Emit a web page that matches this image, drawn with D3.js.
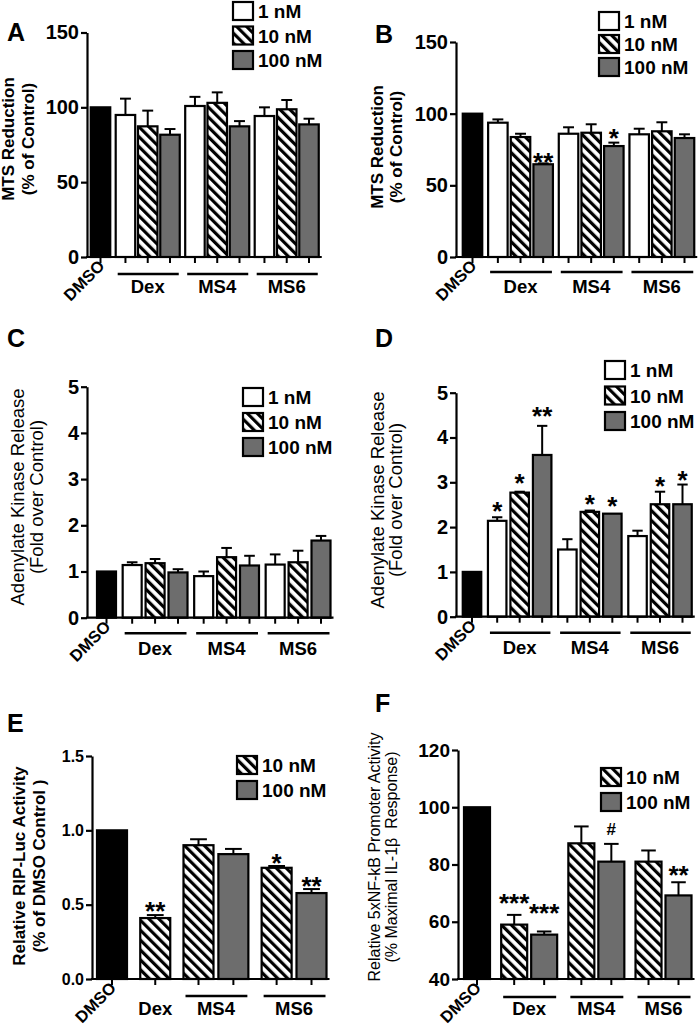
<!DOCTYPE html>
<html><head><meta charset="utf-8">
<script src="https://cdn.jsdelivr.net/npm/d3@7"></script>
<style>body{margin:0;background:#fff}svg{display:block}text{font-family:"Liberation Sans",Arial,sans-serif}</style>
</head><body>
<script>
// ---------- DATA ----------
const conc3 = ["1 nM", "10 nM", "100 nM"];
const conc2 = ["10 nM", "100 nM"];
const compounds = ["Dex", "MS4", "MS6"];

// bar kinds: ctrl = DMSO, c1 = 1 nM, c10 = 10 nM, c100 = 100 nM
const kinds3 = ["ctrl","c1","c10","c100","c1","c10","c100","c1","c10","c100"];
const groups3 = [0,1,1,1,2,2,2,3,3,3];
const kindsE = ["ctrl","c10","c10","c100","c10","c100"];
const groupsE = [0,1,2,2,3,3];
const kindsF = ["ctrl","c10","c100","c10","c100","c10","c100"];
const groupsF = [0,1,1,2,2,3,3];

const meanA = [100, 94.9, 87.3, 81.7, 100.9, 103.0, 87.3, 94.2, 98.7, 88.6];
const semA  = [0, 10.9, 10.5, 3.8, 6.1, 7.0, 3.5, 5.8, 6.2, 3.8];
const meanB = [100, 93.7, 83.7, 64.7, 86.0, 86.7, 77.4, 85.6, 87.7, 83.0];
const semB  = [0, 2.3, 2.3, 0.6, 4.5, 5.9, 2.4, 3.9, 6.3, 2.6];
const meanC = [1, 1.14, 1.18, 0.98, 0.90, 1.31, 1.13, 1.15, 1.20, 1.67];
const semC  = [0, 0.06, 0.09, 0.07, 0.10, 0.20, 0.21, 0.22, 0.25, 0.10];
const meanD = [1, 2.14, 2.77, 3.61, 1.50, 2.34, 2.30, 1.80, 2.51, 2.51];
const semD  = [0, 0.08, 0.02, 0.65, 0.23, 0.03, 0.0, 0.12, 0.28, 0.44];
const meanE = [1, 0.41, 0.90, 0.84, 0.748, 0.578];
const semE  = [0, 0.02, 0.04, 0.035, 0.012, 0.027];
const meanF = [100, 59.0, 55.5, 87.4, 81.0, 81.0, 69.2];
const semF  = [0, 3.4, 1.1, 5.9, 6.2, 3.9, 4.6];

// significance marks: [bar index, text, value at bottom of mark]
const sigA = [];
const sigB = [[3,"**",66.5],[6,"*",83.7]];
const sigC = [];
const sigD = [[1,"*",2.38],[2,"*",3.0],[3,"**",4.5],[5,"*",2.54],[6,"*",2.49],[8,"*",2.94],[9,"*",3.07]];
const sigE = [[1,"**",0.463],[4,"*",0.786],[5,"**",0.631]];
const sigF = [[1,"***",66.9],[2,"***",63.1],[4,"#",90.3],[6,"**",76.7]];

const ticksMTS = [0,50,100,150];
const ticksAK = [0,1,2,3,4,5];
const ticksE = [0,0.5,1.0,1.5];
const ticksF = [40,60,80,100,120];

// ---------- DRAW ----------
const svg = d3.select("body").append("svg").attr("width",700).attr("height",1027);
const defs = svg.append("defs");
const pat = defs.append("pattern").attr("id","hatch").attr("patternUnits","userSpaceOnUse")
  .attr("width",7).attr("height",7).attr("patternTransform","rotate(-45)");
pat.append("rect").attr("width",7).attr("height",7).attr("fill","#fff");
pat.append("rect").attr("width",3.2).attr("height",7).attr("fill","#000");

const GRAY = "#6d6d6d";
const fillOf = k => k==="ctrl" ? "#000" : k==="c1" ? "#fff" : k==="c10" ? "url(#hatch)" : GRAY;
const kindOfLabel = {"1 nM":"c1","10 nM":"c10","100 nM":"c100"};

function panel(c){
  const g = svg.append("g");
  const y = d3.scaleLinear().domain(c.domain).range([c.y0, c.yTop]);
  const slots = c.groups.map((gi,i)=> i + c.gap*gi);
  const x = d3.scaleLinear().domain([0, slots[slots.length-1]]).range([c.firstC, c.lastC]);
  const bw = c.barW;
  const base = c.domain[0];
  const data = c.means.map((m,i)=>({m, s:c.sems[i], k:c.kinds[i], slot:slots[i], grp:c.groups[i]}));

  // error bars
  g.selectAll(".err").data(data.filter(d=>d.s>0)).join("g").each(function(d){
    const e = d3.select(this), cx = x(d.slot);
    e.append("line").attr("x1",cx).attr("x2",cx).attr("y1",y(d.m)).attr("y2",y(d.m+d.s))
      .attr("stroke","#000").attr("stroke-width",2);
    e.append("line").attr("x1",cx-bw*0.28).attr("x2",cx+bw*0.28).attr("y1",y(d.m+d.s)).attr("y2",y(d.m+d.s))
      .attr("stroke","#000").attr("stroke-width",2);
  });
  // bars
  g.selectAll(".bar").data(data).join("rect")
    .attr("x",d=>x(d.slot)-bw/2).attr("width",bw)
    .attr("y",d=>y(d.m)).attr("height",d=>y(base)-y(d.m))
    .attr("fill",d=>fillOf(d.k)).attr("stroke","#000").attr("stroke-width",2.2);

  // y axis
  const ya = g.append("g").attr("transform",`translate(${c.axisX},0)`)
    .call(d3.axisLeft(y).tickValues(c.ticks).tickSize(6).tickSizeOuter(0).tickPadding(2).tickFormat(c.fmt||d3.format("d")));
  ya.select(".domain").attr("stroke-width",2.2);
  ya.selectAll(".tick line").attr("stroke-width",2.2);
  ya.selectAll(".tick text").attr("font-size",c.tickFont).attr("font-weight","bold").attr("fill","#000")
    .style("font-family",'"Liberation Sans",Arial,sans-serif');

  // x axis
  const xEnd = x(slots[slots.length-1]) + bw/2 + 3;
  g.append("line").attr("x1",c.axisX-1).attr("x2",xEnd).attr("y1",c.y0).attr("y2",c.y0)
    .attr("stroke","#000").attr("stroke-width",2.2);
  g.selectAll(".xt").data(slots).join("line")
    .attr("x1",d=>x(d)).attr("x2",d=>x(d)).attr("y1",c.y0).attr("y2",c.y0+6)
    .attr("stroke","#000").attr("stroke-width",2);

  // DMSO label
  g.append("text").attr("text-anchor","end").attr("font-size",16.5).attr("font-weight","bold")
    .attr("transform",`translate(${x(slots[0])+5},${c.y0+10}) rotate(-45)`).text("DMSO");

  // group labels
  compounds.forEach((name,gi)=>{
    const idx = data.map((d,i)=>i).filter(i=>data[i].grp===gi+1);
    const left = x(slots[idx[0]]) - bw/2, right = x(slots[idx[idx.length-1]]) + bw/2;
    if (idx.length>1) {
      g.append("line").attr("x1",left+2).attr("x2",right-1).attr("y1",c.y0+c.lineOff).attr("y2",c.y0+c.lineOff)
        .attr("stroke","#000").attr("stroke-width",2.4);
    }
    g.append("text").attr("x",(left+right)/2).attr("y",c.y0+c.labOff).attr("text-anchor","middle")
      .attr("font-size",18.5).attr("font-weight","bold").text(name);
  });

  // significance
  c.sig.forEach(([i,t,v])=>{
    const star = t!=="#";
    const fs = star ? 26 : 17;
    g.append("text").attr("x",x(slots[i])).attr("y",y(v) + (star? fs*0.37 : 0))
      .attr("text-anchor","middle").attr("font-size",fs).attr("font-weight","bold").text(t);
  });

  // y label
  c.ylab.forEach((t,j)=>{
    g.append("text").attr("text-anchor","middle").attr("font-size",c.ylabFont)
      .attr("font-weight",c.ylabBold?"bold":"normal")
      .attr("transform",`translate(${c.ylabX[j]},${c.ylabCY}) rotate(-90)`)
      .style("white-space","pre").attr("xml:space","preserve").text(t);
  });

  // panel letter
  g.append("text").attr("x",c.letter[1]).attr("y",c.letter[2]).attr("font-size",25).attr("font-weight","bold").text(c.letter[0]);

  // legend
  c.legend.forEach((lab,j)=>{
    const ly = c.legY + j*c.legPitch;
    g.append("rect").attr("x",c.legX).attr("y",ly).attr("width",20).attr("height",18)
      .attr("fill",fillOf(kindOfLabel[lab])).attr("stroke","#000").attr("stroke-width",2.2);
    g.append("text").attr("x",c.legX+25).attr("y",ly+16).attr("font-size",19).attr("font-weight","bold").text(lab);
  });
}

panel({means:meanA, sems:semA, kinds:kinds3, groups:groups3, sig:sigA, domain:[0,150], ticks:ticksMTS, tickFont:20,
  axisX:87, yTop:32.5, y0:257, firstC:100.5, lastC:309, gap:0.12, barW:19.5, lineOff:17, labOff:36,
  ylab:["MTS Reduction","(% of Control)"], ylabFont:17, ylabBold:true, ylabX:[14,33.5], ylabCY:139,
  letter:["A",7,41], legend:conc3, legX:233, legY:2, legPitch:24.5});
panel({means:meanB, sems:semB, kinds:kinds3, groups:groups3, sig:sigB, domain:[0,150], ticks:ticksMTS, tickFont:20,
  axisX:456, yTop:42, y0:257, firstC:472.5, lastC:684.5, gap:0.12, barW:19.5, lineOff:15, labOff:36,
  ylab:["MTS Reduction","(% of Control)"], ylabFont:17, ylabBold:true, ylabX:[383,402], ylabCY:147,
  letter:["B",375,43], legend:conc3, legX:599, legY:12, legPitch:23});
panel({means:meanC, sems:semC, kinds:kinds3, groups:groups3, sig:sigC, domain:[0,5], ticks:ticksAK, tickFont:20,
  axisX:87, yTop:386.7, y0:617.7, firstC:106.5, lastC:321, gap:0.12, barW:19, lineOff:15.5, labOff:37,
  ylab:["Adenylate Kinase Release","(Fold over Control)"], ylabFont:18.5, ylabBold:false, ylabX:[24,43], ylabCY:497,
  letter:["C",7,347], legend:conc3, legX:243, legY:388, legPitch:25});
panel({means:meanD, sems:semD, kinds:kinds3, groups:groups3, sig:sigD, domain:[0,5], ticks:ticksAK, tickFont:20,
  axisX:456, yTop:392.7, y0:616.7, firstC:472, lastC:682.5, gap:0.12, barW:18.5, lineOff:16, labOff:37,
  ylab:["Adenylate Kinase Release","(Fold over Control)"], ylabFont:18.5, ylabBold:false, ylabX:[384,402], ylabCY:500,
  letter:["D",375,347], legend:conc3, legX:605, legY:361, legPitch:25.5});
panel({means:meanE, sems:semE, kinds:kindsE, groups:groupsE, sig:sigE, domain:[0,1.5], ticks:ticksE, tickFont:16, fmt:d3.format(".1f"),
  axisX:92, yTop:756, y0:979, firstC:112, lastC:311.5, gap:0.24, barW:30, lineOff:17, labOff:36,
  ylab:["Relative RIP-Luc Activity","(% of DMSO Control )"], ylabFont:17, ylabBold:true, ylabX:[25,45], ylabCY:866,
  letter:["E",7,732], legend:conc2, legX:237, legY:756, legPitch:25});
panel({means:meanF, sems:semF, kinds:kindsF, groups:groupsF, sig:sigF, domain:[40,120], ticks:ticksF, tickFont:19,
  axisX:458, yTop:750, y0:979, firstC:477, lastC:678.5, gap:0.24, barW:26, lineOff:18, labOff:36,
  ylab:["Relative 5xNF-kB Promoter Activity","(% Maximal IL-1\u03B2  Response)"], ylabFont:16, ylabBold:false, ylabX:[380,397], ylabCY:857,
  letter:["F",375,712], legend:conc2, legX:601, legY:768, legPitch:25});
</script>
</body></html>
